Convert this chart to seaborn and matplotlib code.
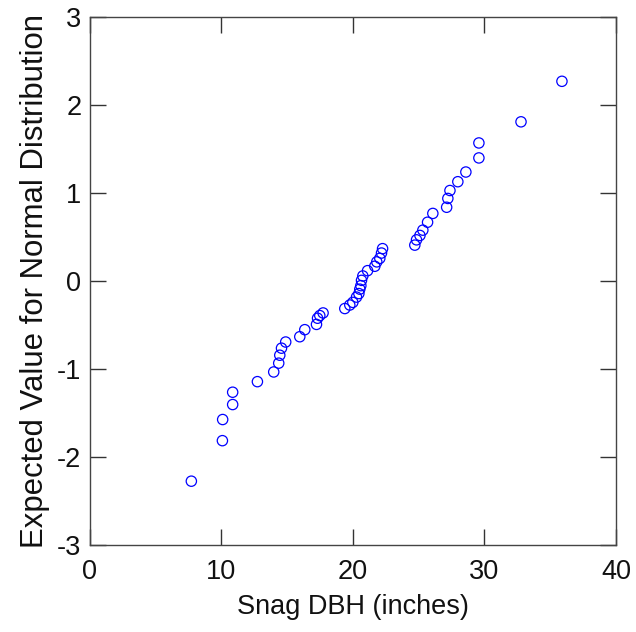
import matplotlib
matplotlib.use('Agg')
import matplotlib.pyplot as plt
import seaborn as sns

# values
dbh = [7.73, 10.09, 10.11, 10.87, 10.87, 12.75, 13.99, 14.37, 14.45, 14.58,
       14.90, 15.97, 16.35, 17.24, 17.32, 17.49, 17.74, 19.39, 19.77, 20.00,
       20.28, 20.46, 20.53, 20.61, 20.66, 20.76, 21.12, 21.67, 21.82, 22.05,
       22.18, 22.26, 24.71, 24.84, 25.10, 25.32, 25.68, 26.08, 27.13, 27.22,
       27.38, 27.98, 28.59, 29.58, 29.58, 32.78, 35.89]
expected = [-2.27, -1.81, -1.57, -1.40, -1.26, -1.14, -1.03, -0.93, -0.84, -0.76,
            -0.69, -0.63, -0.55, -0.49, -0.42, -0.39, -0.36, -0.31, -0.27, -0.24,
            -0.18, -0.14, -0.09, -0.05, 0.01, 0.06, 0.12, 0.17, 0.22, 0.26,
            0.32, 0.37, 0.41, 0.47, 0.52, 0.58, 0.67, 0.77, 0.84, 0.94,
            1.03, 1.13, 1.24, 1.40, 1.57, 1.81, 2.27]
x_ticks = [0, 10, 20, 30, 40]
y_ticks = [-3, -2, -1, 0, 1, 2, 3]

sns.set_style('white')
plt.rcParams['font.family'] = ['Liberation Sans', 'DejaVu Sans']
plt.rcParams['axes.unicode_minus'] = False

fig = plt.figure(figsize=(6.36, 6.32), dpi=100)
ax = fig.add_axes([0.1409, 0.1369, 0.8277, 0.8362])

sns.scatterplot(x=dbh, y=expected, ax=ax, s=55, marker='o',
                facecolor='none', edgecolor='blue', linewidth=0.9)

ax.set_xlim(0, 40)
ax.set_ylim(-3, 3)
ax.set_xticks(x_ticks)
ax.set_yticks(y_ticks)
ax.tick_params(direction='in', length=11.5, width=1.0, color='#333333',
               labelsize=19.5, labelcolor='#111111',
               top=True, right=True, bottom=True, left=True)
ax.tick_params(axis='x', pad=10)
ax.tick_params(axis='y', pad=6)
for sp in ax.spines.values():
    sp.set_color('#444444')
    sp.set_linewidth(1.0)

ax.set_xlabel('Snag DBH (inches)', fontsize=19.5, color='#111111', labelpad=6)
ax.set_ylabel('Expected Value for Normal Distribution', fontsize=22.4,
              color='#111111', labelpad=5)

fig.savefig('out.png', dpi=100)
